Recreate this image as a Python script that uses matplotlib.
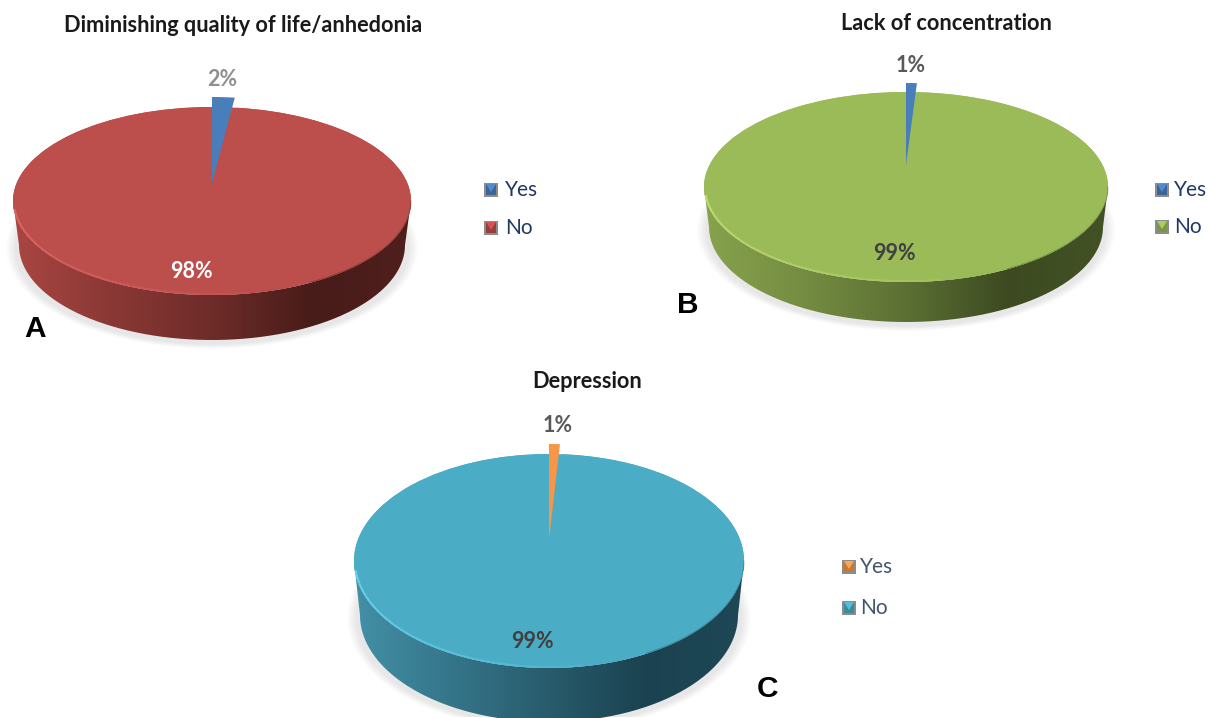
import numpy as np
import matplotlib
matplotlib.use("Agg")
import matplotlib.pyplot as plt
from matplotlib.colors import LinearSegmentedColormap, to_rgb
from matplotlib.patches import Ellipse, PathPatch, Polygon, Rectangle
from matplotlib.path import Path

W, H = 1209, 718

categories = ["Yes", "No"]
values_a = [2, 98]
values_b = [1, 99]
values_c = [1, 99]
title_a = "Diminishing quality of life/anhedonia"
title_b = "Lack of concentration"
title_c = "Depression"

panels = [
    dict(values=values_a, title=title_a, letter="A",
         cx=212, cy=201, rx=199, ry=94, bcy=245, brx=193, ry_b=95,
         apex=183, tip=97, colors=("#4a7ebb", "#bc4e4b"),
         wall=["#a94642", "#8a3835", "#6e2c29", "#481c19", "#4f1f1c"],
         rim="#e8696a",
         title_xy=(243, 26), letter_xy=(35, 329),
         yes_xy=(222, 80), yes_style=("#8f8f8f", "bold"),
         no_xy=(191, 271), no_style=("white", "bold"),
         legend=(491, 190, 228), legend_text="#1f3864", legend_dx=14),
    dict(values=values_b, title=title_b, letter="B",
         cx=906, cy=187, rx=202, ry=95, bcy=227, brx=197, ry_b=95,
         apex=165, tip=83, colors=("#4a7ebb", "#9bbb59"),
         wall=["#87a34d", "#748c41", "#5c7034", "#3d4a21", "#435225"],
         rim="#c8e67c",
         title_xy=(946, 24), letter_xy=(688, 305),
         yes_xy=(911, 65), yes_style=("#595959", "bold"),
         no_xy=(894, 254), no_style=("#404040", "bold"),
         legend=(1162, 190, 227), legend_text="#1f3864", legend_dx=12),
    dict(values=values_c, title=title_c, letter="C",
         cx=549, cy=561, rx=195, ry=107, bcy=615, brx=189, ry_b=107,
         apex=540, tip=444, colors=("#f79646", "#4bacc6"),
         wall=["#4390a6", "#35758a", "#285b6c", "#1b4250", "#1e4856"],
         rim="#6fdcf5",
         title_xy=(587, 381), letter_xy=(767, 689),
         yes_xy=(558, 425), yes_style=("#595959", "bold"),
         no_xy=(532, 642), no_style=("#404040", "bold"),
         legend=(849, 567, 608), legend_text="#44546a", legend_dx=11),
]

plt.rcParams["font.family"] = ["Lato", "DejaVu Sans"]

fig = plt.figure(figsize=(W / 100, H / 100), dpi=100, facecolor="white")


def pixel_axes(zorder):
    ax = fig.add_axes([0, 0, 1, 1], zorder=zorder)
    ax.set_xlim(0, W)
    ax.set_ylim(H, 0)
    ax.axis("off")
    ax.patch.set_alpha(0)
    return ax


base = pixel_axes(0)
overlay = pixel_axes(5)


def draw_shadow(p):
    # Faint grey halo under the lower part of the disc
    x = np.arange(p["cx"] - p["rx"] - 30, p["cx"] + p["rx"] + 31)
    y = np.arange(p["cy"], min(p["bcy"] + p["ry_b"] + 20, H))
    xx, yy = np.meshgrid(x, y)
    r = np.hypot((xx - p["cx"]) / (p["rx"] + 1), (yy - p["bcy"] - 3) / (p["ry_b"] + 3))
    alpha = np.clip((1.035 - r) / 0.05, 0, 1) * 0.17
    rgba = np.zeros(xx.shape + (4,))
    rgba[..., :3] = 0.45
    rgba[..., 3] = alpha
    base.imshow(rgba, extent=(x[0], x[-1], y[-1], y[0]), aspect="auto", zorder=1,
                interpolation="bilinear")


def draw_wall(p):
    # Side of the cylinder: horizontal gradient clipped to the band between two arcs
    t = np.linspace(np.pi, 0, 200)
    top = np.c_[p["cx"] + p["rx"] * np.cos(t), p["cy"] + p["ry"] * np.sin(t)]
    bot = np.c_[p["cx"] + p["brx"] * np.cos(t[::-1]), p["bcy"] + p["ry_b"] * np.sin(t[::-1])]
    verts = np.vstack([top, bot, top[:1]])
    clip = PathPatch(Path(verts), transform=base.transData, facecolor="none", edgecolor="none")
    base.add_patch(clip)
    cmap = LinearSegmentedColormap.from_list("wall", p["wall"])
    grad = np.linspace(0, 1, 256)[None, :]
    im = base.imshow(grad, cmap=cmap, aspect="auto", zorder=2,
                     extent=(p["cx"] - p["rx"], p["cx"] + p["rx"], p["bcy"] + p["ry_b"], p["cy"]))
    im.set_clip_path(clip)


def draw_top(p, idx):
    left = (p["cx"] - p["rx"]) / W
    bottom = 1 - (p["cy"] + p["ry"]) / H
    ax = fig.add_axes([left, bottom, 2 * p["rx"] / W, 2 * p["ry"] / H], zorder=2 + idx * 0.1)
    ax.patch.set_alpha(0)
    ax.add_patch(Ellipse((0, 0), 2, 2, facecolor=p["colors"][1], edgecolor="none"))
    wedges, _ = ax.pie(p["values"], colors=p["colors"], startangle=90, counterclock=False,
                       wedgeprops=dict(linewidth=0, clip_on=False))
    ax.set_aspect("auto")
    ax.set_xlim(-1, 1)
    ax.set_ylim(-1, 1)
    # The "Yes" slice is pulled out and sits above the back edge of the disc
    apex_y = (p["cy"] - p["apex"]) / p["ry"]
    wedges[0].set_center((0, apex_y))
    wedges[0].set_radius((p["apex"] - p["tip"]) / p["ry"])
    wedges[0].set_zorder(5)
    # Bevel along the front-left edge, fading out towards the front
    angles = np.linspace(185, 280, 40)
    for a0, a1, fade in zip(angles[:-1], angles[1:], np.linspace(0.8, 0.15, 39)):
        t = np.radians([a0, (a0 + a1) / 2, a1])
        ax.plot(np.cos(t) * 0.995, np.sin(t) * 0.99, color=p["rim"], lw=1.4, alpha=fade,
                clip_on=False, solid_capstyle="butt")
    t = np.radians(np.linspace(300, 360, 60))
    ax.plot(np.cos(t), np.sin(t) * 0.995, color=p["wall"][3], lw=0.8, alpha=0.35, clip_on=False)


def draw_key(x, y, color):
    # Small bevelled legend swatch
    c = np.array(to_rgb(color))
    s = 7
    overlay.add_patch(Rectangle((x - s, y - s), 2 * s, 2 * s, facecolor="#8c8c8c", edgecolor="none"))
    overlay.add_patch(Rectangle((x - s + 2, y - s + 1), 2 * s - 4, 2 * s - 3,
                                facecolor=c * 0.8, edgecolor="none"))
    overlay.add_patch(Polygon([(x - s + 2, y - s + 1), (x + s - 2, y - s + 1), (x, y + 2)],
                              facecolor=np.clip(c * 1.1, 0, 1), edgecolor="none"))


for i, p in enumerate(panels):
    draw_shadow(p)
    draw_wall(p)
    draw_top(p, i)

    overlay.text(*p["title_xy"], p["title"], ha="center", va="center",
                 fontsize=15.7, fontweight="bold", color="#1a1a1a")
    overlay.text(*p["letter_xy"], p["letter"], ha="center", va="center", fontsize=21.5,
                 fontweight="bold", family="Liberation Sans", color="black")

    yes_share, no_share = p["values"]
    overlay.text(*p["yes_xy"], f"{yes_share}%", ha="center", va="center", fontsize=15.5,
                 color=p["yes_style"][0], fontweight=p["yes_style"][1])
    overlay.text(*p["no_xy"], f"{no_share}%", ha="center", va="center", fontsize=15.5,
                 color=p["no_style"][0], fontweight=p["no_style"][1])

    lx, ly1, ly2 = p["legend"]
    for label, color, ly in zip(categories, p["colors"], (ly1, ly2)):
        draw_key(lx, ly, color)
        overlay.text(lx + p["legend_dx"], ly, label, ha="left", va="center", fontsize=15,
                     color=p["legend_text"])

base.set_xlim(0, W)
base.set_ylim(H, 0)

fig.savefig("out.png", dpi=100, facecolor="white")
